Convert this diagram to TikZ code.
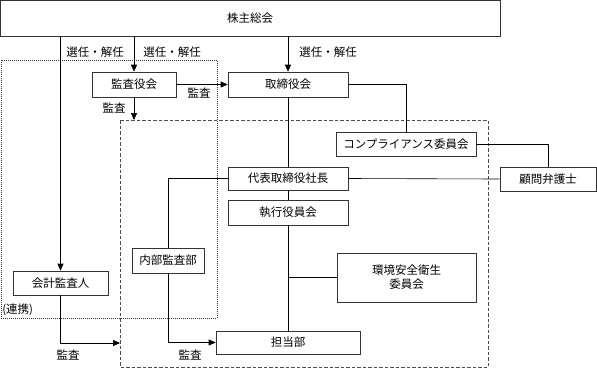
\documentclass[tikz,border=0pt]{standalone}
\usepackage{fontspec}
\setmainfont{Noto Sans CJK JP}
\usetikzlibrary{arrows.meta}
\begin{document}
\begin{tikzpicture}[x=1pt, y=-1pt, line width=0.6pt,
                    font=\fontsize{11.5}{14}\selectfont,
                    org node/.style={draw=black!80, fill=white, inner sep=0pt, align=center},
                    to/.style={-{Triangle[length=7pt,width=6pt]}},
                    note/.style={inner sep=0pt}]
  \useasboundingbox (0,0) rectangle (597,368);

  % groups
  \draw[black!80, dash pattern=on 1pt off 1pt] (1,60) rectangle (217,318);
  \draw[black!70, dash pattern=on 3.5pt off 2pt] (120,120) rectangle (488,367);
  \coordinate (grp top) at (134,120);

  % boxes
  \node[org node, minimum width=500pt, minimum height=36pt] (gm) at (250,18) {株主総会};
  \node[org node, minimum width=84pt, minimum height=25pt] (audit board) at (134,84.5) {監査役会};
  \node[org node, minimum width=120pt, minimum height=25pt] (board) at (288,84.5) {取締役会};
  \node[org node, minimum width=140pt, minimum height=24pt] (compliance) at (406,144) {コンプライアンス委員会};
  \node[org node, minimum width=120pt, minimum height=23pt] (president) at (288,178.5) {代表取締役社長};
  \node[org node, minimum width=96pt, minimum height=24pt] (lawyer) at (548,179) {顧問弁護士};
  \node[org node, minimum width=120pt, minimum height=25pt] (executive) at (288,212.5) {執行役員会};
  \node[org node, minimum width=72pt, minimum height=25pt] (internal) at (168,260.5) {内部監査部};
  \node[org node, minimum width=95pt, minimum height=24pt] (accountant) at (60.5,283) {会計監査人};
  \node[org node, minimum width=139pt, minimum height=49pt] (safety) at (406.5,277.5) {環境安全衛生\\委員会};
  \node[org node, minimum width=144pt, minimum height=23pt] (dept) at (288,342.5) {担当部};

  % appointment
  \draw[to] (accountant.north |- gm.south) -- (accountant.north);
  \draw[to] (audit board.north |- gm.south) -- (audit board.north);
  \draw[to] (board.north |- gm.south) -- (board.north);
  \node[note] (appoint 1) at (95,52) {選任・解任};
  \node[note] (appoint 2) at (172,52) {選任・解任};
  \node[note] (appoint 3) at (328,52) {選任・解任};

  % audit
  \draw[to] (audit board) -- (board);
  \node[note] at (199,93) {監査};
  \draw[to] (audit board) -- (grp top);
  \node[note] at (114,108) {監査};
  \draw[to] (accountant.south) |- (120,343);
  \node[note] at (68,355) {監査};
  \draw[to] (internal.south) |- (dept.west);
  \node[note] at (190,355) {監査};
  \node[note, anchor=west] at (2,310) {(連携)};

  % reporting lines
  \draw (board.south) -- (president.north);
  \draw (president.south) -- (executive.north);
  \draw (executive.south) -- (dept.north);
  \draw (safety.west) -- (safety.west -| dept.north);
  \draw (board.east) -| (compliance.north);
  \draw (compliance.east) -| (lawyer.north);
  \draw (president.east) -- (lawyer.west);
  \draw (president.west) -| (internal.north);
\end{tikzpicture}
\end{document}
